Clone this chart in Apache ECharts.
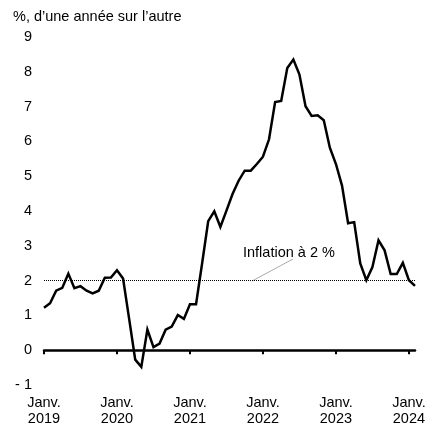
<!DOCTYPE html>
<html>
<head>
<meta charset="utf-8">
<script src="https://cdn.jsdelivr.net/npm/echarts@6/dist/echarts.min.js"></script>
<style>
html,body{margin:0;padding:0;background:#fff;}
#chart{width:429px;height:431px;}
</style>
</head>
<body>
<div id="chart"></div>
<script>
// Data
var startYear = 2019;
var monthCount = 62; // Jan 2019 .. Feb 2024
var monthLabel = 'Janv.';
var inflation = [
  1.22, 1.35, 1.71, 1.79, 2.20, 1.78, 1.84, 1.71, 1.63, 1.71, 2.08, 2.09,
  2.30, 2.06, 0.90, -0.27, -0.48, 0.59, 0.09, 0.19, 0.59, 0.68, 1.01, 0.90,
  1.32, 1.32, 2.50, 3.71, 3.99, 3.54, 4.01, 4.49, 4.87, 5.16, 5.16, 5.35,
  5.56, 6.06, 7.13, 7.16, 8.11, 8.35, 7.92, 7.01, 6.73, 6.75, 6.61, 5.82,
  5.35, 4.73, 3.65, 3.68, 2.49, 2.01, 2.39, 3.16, 2.87, 2.19, 2.19, 2.51,
  2.01, 1.85
];
var target = 2;
var yMin = -1, yMax = 9, yStep = 1;
var titleText = '%, d\u2019une ann\u00e9e sur l\u2019autre';
var annotationText = 'Inflation \u00e0 2 %';

var categories = [];
for (var i = 0; i < monthCount; i++) {
  var y = startYear + Math.floor(i / 12);
  var m = (i % 12) + 1;
  categories.push(y + '-' + (m < 10 ? '0' + m : m));
}

var font = 'Liberation Sans';
var fs = 14.5;
var chart = echarts.init(document.getElementById('chart'), null, {renderer: 'canvas'});
var janOnly = function (idx) { return idx % 12 === 0; };

chart.setOption({
  animation: false,
  backgroundColor: '#fff',
  title: {
    text: titleText,
    left: 8, top: 4,
    textStyle: {fontFamily: font, fontSize: fs, fontWeight: 'normal', color: '#000'}
  },
  grid: {left: 44, right: 14, top: 37, bottom: 46, containLabel: false},
  xAxis: [
    {
      type: 'category', data: categories, boundaryGap: false,
      axisLine: {show: true, onZero: true, lineStyle: {color: '#000', width: 2.5}},
      axisTick: {show: true, interval: janOnly, length: 4, lineStyle: {color: '#000', width: 2}},
      axisLabel: {show: false},
      splitLine: {show: false}
    },
    {
      type: 'category', data: categories, boundaryGap: false, position: 'bottom',
      axisLine: {show: false, onZero: false},
      axisTick: {show: false},
      axisLabel: {
        show: true, interval: janOnly, margin: 10,
        fontFamily: font, fontSize: fs, color: '#000', lineHeight: 16,
        formatter: function (v) { return monthLabel + '\n' + v.slice(0, 4); }
      },
      splitLine: {show: false}
    }
  ],
  yAxis: {
    type: 'value', min: yMin, max: yMax, interval: yStep,
    axisLine: {show: false}, axisTick: {show: false}, splitLine: {show: false},
    axisLabel: {
      margin: 12, fontFamily: font, fontSize: fs, color: '#000',
      formatter: function (v) { return v < 0 ? '- ' + Math.abs(v) : String(v); }
    }
  },
  series: [{
    type: 'line', xAxisIndex: 0, data: inflation,
    symbol: 'none', smooth: false,
    lineStyle: {color: '#000', width: 2.5, join: 'miter'},
    markLine: {
      silent: true, symbol: ['none', 'none'],
      label: {show: false},
      lineStyle: {color: '#000', type: 'dotted', width: 1},
      data: [{yAxis: target}]
    },
    z: 3
  }],
  graphic: [
    {
      type: 'line', silent: true,
      shape: {x1: 293, y1: 259, x2: 252, y2: 281},
      style: {stroke: '#aaa', lineWidth: 1}
    },
    {
      type: 'text', silent: true, left: 243, top: 245,
      style: {text: annotationText, fontFamily: font, fontSize: fs, fill: '#000'}
    }
  ]
});
</script>
</body>
</html>
